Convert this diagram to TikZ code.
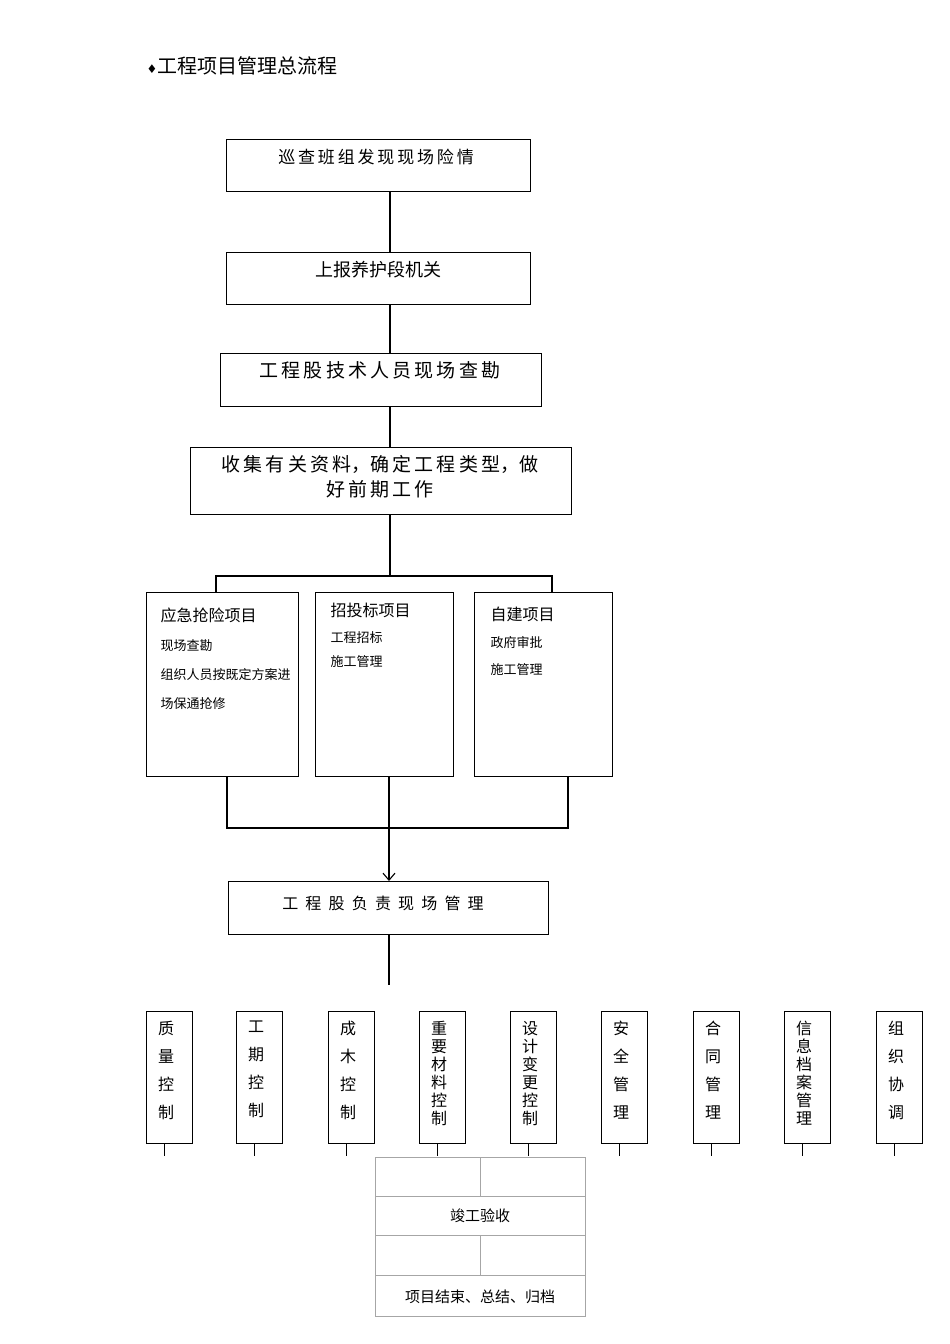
\documentclass[tikz,border=0pt]{standalone}
\usepackage{fontspec}
\setmainfont{Noto Sans CJK SC}
\newfontfamily\symfont{DejaVu Sans}
\usetikzlibrary{arrows.meta}
\begin{document}
\begin{tikzpicture}[x=1pt,y=-1pt,
  box/.style={draw,line width=1.2pt},
  ln/.style={line width=1.1pt},
  thin/.style={draw=gray!70,line width=0.8pt}]
\useasboundingbox (0,0) rectangle (950,1344);
\node[anchor=west,font=\fontsize{20}{24}\selectfont] (title) at (143,66) {{\symfont\fontsize{12}{12}\selectfont ♦}工程项目管理总流程};
% main boxes
\node[box,minimum width=304,minimum height=52,anchor=north west,inner sep=0] (b1) at (226,139) {};
\node[anchor=north,font=\fontsize{17}{20}\selectfont] at (376,146) {巡\,查\,班\,组\,发\,现\,现\,场\,险\,情};
\node[box,minimum width=304,minimum height=52,anchor=north west,inner sep=0] (b2) at (226,252) {};
\node[anchor=north,font=\fontsize{18}{20}\selectfont] at (378,258) {上报养护段机关};
\node[box,minimum width=321,minimum height=53,anchor=north west,inner sep=0] (b3) at (220,353) {};
\node[anchor=north,font=\fontsize{19}{20}\selectfont] at (380,358) {工\,程\,股\,技\,术\,人\,员\,现\,场\,查\,勘};
\node[box,minimum width=381,minimum height=67,anchor=north west,inner sep=0] (b4) at (190,447) {};
\node[anchor=north,font=\fontsize{19}{25}\selectfont,align=center] at (380,452) {收\,集\,有\,关\,资\,料，确\,定\,工\,程\,类\,型，做\\好\,前\,期\,工\,作};
\draw[ln] (390,191) -- (390,252) (390,304) -- (390,353) (390,406) -- (390,447) (390,514) -- (390,576);
\draw[ln] (216,592) -- (216,576) -- (552,576) -- (552,592);
% three boxes
\node[box,minimum width=152,minimum height=184,anchor=north west,inner sep=0] (ba) at (146,592) {};
\node[box,minimum width=138,minimum height=184,anchor=north west,inner sep=0] (bb) at (315,592) {};
\node[box,minimum width=138,minimum height=184,anchor=north west,inner sep=0] (bc) at (474,592) {};
\node[anchor=north west,font=\fontsize{16}{20}\selectfont] at (157,604) {应急抢险项目};
\node[anchor=north west,font=\fontsize{13}{29}\selectfont,align=left] at (157,636) {现场查勘\\组织人员按既定方案进\\场保通抢修};
\node[anchor=north west,font=\fontsize{16}{20}\selectfont] at (327,600) {招投标项目};
\node[anchor=north west,font=\fontsize{13}{24}\selectfont,align=left] at (327,628) {工程招标\\施工管理};
\node[anchor=north west,font=\fontsize{16}{20}\selectfont] at (487,603) {自建项目};
\node[anchor=north west,font=\fontsize{13}{27}\selectfont,align=left] at (487,633) {政府审批\\施工管理};
\draw[ln] (227,776) -- (227,828) -- (568,828) -- (568,776);
\draw[ln] (389,776) -- (389,828);
\node[box,minimum width=320,minimum height=53,anchor=north west,inner sep=0] (bd) at (228,881) {};
\draw[ln,-{Straight Barb[length=7pt,width=12pt]}] (389,828) -- (389,881);
\node[anchor=north,font=\fontsize{16}{20}\selectfont] at (383,892) {工\ \ 程\ \ 股\ \ 负\ \ 责\ \ 现\ \ 场\ \ 管\ \ 理};
\draw[ln] (389,934) -- (389,985);
% small boxes
\foreach \x/\t/\sp in {146/{质\\量\\控\\制}/28, 236/{工\\期\\控\\制}/28, 328/{成\\木\\控\\制}/28, 419/{重\\要\\材\\料\\控\\制}/18, 510/{设\\计\\变\\更\\控\\制}/18, 601/{安\\全\\管\\理}/28, 693/{合\\同\\管\\理}/28, 784/{信\\息\\档\\案\\管\\理}/18, 876/{组\\织\\协\\调}/28}{
  \node[box,minimum width=46,minimum height=132,anchor=north west,inner sep=0] (s\x) at (\x,1011) {};
  \node[anchor=north,font=\fontsize{16}{\sp}\selectfont,align=center,inner sep=0] at (\x+20,1021) {\t};
  \draw[line width=0.8pt] (\x+18,1143) -- (\x+18,1156);
}
% bottom table
\draw[thin] (375,1157) rectangle (585,1316);
\draw[thin] (375,1196) -- (585,1196) (375,1235) -- (585,1235) (375,1275) -- (585,1275);
\draw[thin] (480,1157) -- (480,1196) (480,1235) -- (480,1275);
\node[font=\fontsize{15}{18}\selectfont] (t1) at (480,1216) {竣工验收};
\node[font=\fontsize{15}{18}\selectfont] (t2) at (480,1297) {项目结束、总结、归档};
\end{tikzpicture}
\end{document}
